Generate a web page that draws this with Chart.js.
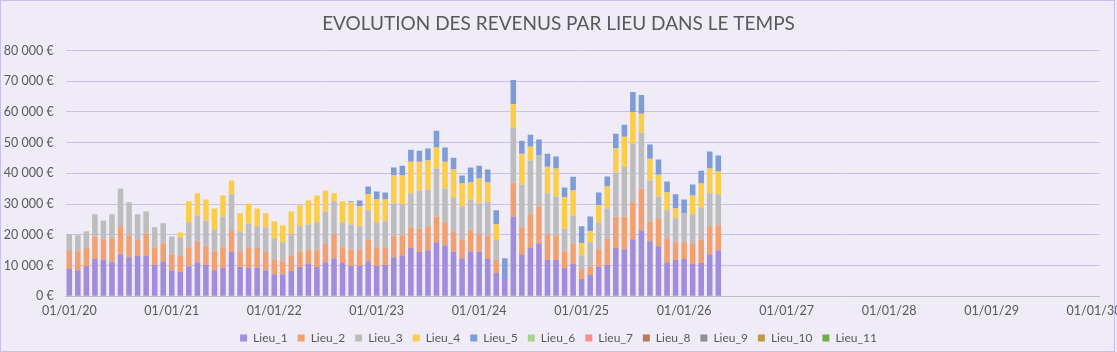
<!DOCTYPE html>
<html>
<head>
<meta charset="utf-8">
<script src="https://cdn.jsdelivr.net/npm/chart.js@4"></script>
<style>
  html, body { margin: 0; padding: 0; background: #ffffff; }
  #wrap { width: 1117px; height: 352px; }
</style>
</head>
<body>
<div id="wrap"><canvas id="chart" width="1117" height="352"></canvas></div>
<script>
// months, Jan 2020 -> May 2026
let mois = [
  "2020-01","2020-02","2020-03","2020-04","2020-05","2020-06","2020-07","2020-08","2020-09","2020-10","2020-11","2020-12",
  "2021-01","2021-02","2021-03","2021-04","2021-05","2021-06","2021-07","2021-08","2021-09","2021-10","2021-11","2021-12",
  "2022-01","2022-02","2022-03","2022-04","2022-05","2022-06","2022-07","2022-08","2022-09","2022-10","2022-11","2022-12",
  "2023-01","2023-02","2023-03","2023-04","2023-05","2023-06","2023-07","2023-08","2023-09","2023-10","2023-11","2023-12",
  "2024-01","2024-02","2024-03","2024-04","2024-05","2024-06","2024-07","2024-08","2024-09","2024-10","2024-11","2024-12",
  "2025-01","2025-02","2025-03","2025-04","2025-05","2025-06","2025-07","2025-08","2025-09","2025-10","2025-11","2025-12",
  "2026-01","2026-02","2026-03","2026-04","2026-05"
];

let lieu1 = [
  8900,8500,9900,12100,11900,11100,13700,12700,13100,13100,10200,11400,
  8500,7900,9800,11100,10200,8500,9200,14400,9500,9200,9200,8500,
  7200,7200,8200,9500,10500,9500,11100,12400,10800,9900,9900,11400,
  9900,10200,12700,13400,15700,14400,15000,17600,16600,14400,12400,14700,
  14400,12100,7600,5600,26000,13700,16000,17300,11800,11800,9200,10500,
  5600,6900,9500,10200,15700,15300,18600,21500,17900,16300,11100,11800,
  12100,10500,10800,13700,15000
];
let lieu2 = [
  6100,6200,5800,7400,6700,7800,9100,7200,5500,7400,5800,5900,
  5200,5200,6200,6800,6100,5900,6800,7100,4900,6500,6500,6200,
  4600,4200,5200,5200,4500,5500,5900,7800,5200,5300,5400,6900,
  6100,5800,7000,6500,6800,7700,7800,8400,7500,6800,6200,6800,
  5800,7800,4200,0,11000,8800,10700,12000,8400,8100,5500,6500,
  3300,2900,5800,8700,10300,10700,12000,13600,6500,9100,7800,5800,
  5500,6500,7800,9100,8100
];
let lieu3 = [
  5200,5200,5500,7200,6100,7800,12300,10700,8100,7100,6500,6500,
  5800,6100,8100,8400,8400,7400,10000,11700,6800,8100,7100,7800,
  7100,6200,6800,8100,8400,9100,10600,10700,8100,8200,7500,9700,
  8100,8400,10500,10100,11000,12300,12000,15600,11000,11000,10700,10000,
  10000,10700,6500,0,17900,13900,17500,16500,13300,12600,7400,9300,
  4500,7800,8800,9700,14300,16200,19100,18100,13300,7100,9100,7800,
  9400,9700,10300,10700,10100
];
let lieu4 = [
  0,0,0,0,0,0,0,0,0,0,0,0,
  0,1600,6800,7200,6800,6800,6800,4500,5800,6400,5800,4500,
  5500,5500,7400,6800,7800,8700,6800,2600,6800,7200,6500,5200,
  7400,7100,9100,9300,10300,9400,9400,6800,8700,9100,7400,5500,
  8100,6400,5100,0,7700,10000,4500,0,8700,9100,10100,8100,
  3900,3600,5500,7100,7800,9700,10300,6200,7100,7100,5800,3200,
  0,6100,7800,8100,7400
];
let lieu5 = [
  0,0,0,0,0,0,0,0,0,0,0,0,
  0,0,0,0,0,0,0,0,0,0,0,0,
  0,0,0,0,0,0,0,0,0,300,1900,2500,
  2600,2300,2600,3200,3900,3600,3900,5500,4600,3800,2600,4900,
  4200,4300,4600,6800,7800,4200,3900,5200,4200,3900,3200,4500,
  5500,4800,4200,3300,4800,3900,6500,6100,4600,4900,3600,4600,
  4500,3600,4200,5500,5200
];
// no revenue read for these places
let lieu6 = [];
let lieu7 = [];
let lieu8 = [];
let lieu9 = [];
let lieu10 = [];
let lieu11 = [];

let tickLabels = ["01/01/20","01/01/21","01/01/22","01/01/23","01/01/24","01/01/25","01/01/26","01/01/27","01/01/28","01/01/29","01/01/30"];

let lieux = ["Lieu_1","Lieu_2","Lieu_3","Lieu_4","Lieu_5","Lieu_6","Lieu_7","Lieu_8","Lieu_9","Lieu_10","Lieu_11"];
let series = [lieu1, lieu2, lieu3, lieu4, lieu5, lieu6, lieu7, lieu8, lieu9, lieu10, lieu11];
let colors = ["#a18ddb","#f0a16f","#bdbdbd","#fcce48","#7e9cd6","#a9d18e","#ff8b8b","#bb7a56","#8e8e8e","#bb9a48","#6fad47"];

// month number counted from Jan 2020
function monthIndex(m) {
  let parts = m.split("-");
  return (parseInt(parts[0]) - 2020) * 12 + parseInt(parts[1]) - 1;
}

function euro(v) {
  return String(v).replace(/\B(?=(\d{3})+(?!\d))/g, " ") + " €";
}

let datasets = series.map((vals, k) => ({
  label: lieux[k],
  data: vals.map((v, i) => ({ x: monthIndex(mois[i]), y: v })),
  backgroundColor: colors[k],
  borderWidth: 0,
  barPercentage: 0.65,
  categoryPercentage: 1.0,
}));

let fontFam = "Lato, 'DejaVu Sans', sans-serif";
let textColor = "#595959";

let background = {
  id: "background",
  beforeDraw(chart) {
    let ctx = chart.ctx;
    ctx.save();
    ctx.fillStyle = "#efecf8";
    ctx.fillRect(0, 0, chart.width, chart.height);
    ctx.restore();
  },
  afterDraw(chart) {
    let ctx = chart.ctx;
    ctx.save();
    ctx.strokeStyle = "#c8bfee";
    ctx.lineWidth = 1;
    ctx.strokeRect(0.5, 0.5, 1114, chart.height - 1);
    ctx.restore();
  }
};

new Chart(document.getElementById("chart"), {
  type: "bar",
  data: { datasets: datasets },
  plugins: [background],
  options: {
    responsive: false,
    animation: false,
    layout: { padding: { left: 0, right: 0, top: 0, bottom: -2 } },
    plugins: {
      title: {
        display: true,
        text: "EVOLUTION DES REVENUS PAR LIEU DANS LE TEMPS",
        color: textColor,
        font: { family: fontFam, size: 19, weight: "normal" },
        padding: { top: 12, bottom: 15.7 },
      },
      legend: {
        position: "bottom",
        labels: {
          boxWidth: 7,
          boxHeight: 7,
          padding: 10,
          color: textColor,
          font: { family: fontFam, size: 12 },
        },
      },
      tooltip: { enabled: false },
    },
    scales: {
      x: {
        type: "linear",
        stacked: true,
        min: -0.42,
        max: 120.62,
        offset: false,
        grid: { display: false, drawTicks: false },
        border: { display: true, color: "#bfbfbf", width: 1 },
        afterBuildTicks(scale) {
          scale.ticks = tickLabels.map((t, i) => ({ value: i * 12 }));
        },
        afterFit(scale) {
          scale.height = 25.7;
          scale.paddingLeft = 0;
          scale.paddingRight = 17.7;
        },
        ticks: {
          autoSkip: false,
          maxRotation: 0,
          padding: 7.5,
          color: textColor,
          font: { family: fontFam, size: 12.5 },
          callback: (v) => tickLabels[Math.round(v / 12)],
        },
      },
      y: {
        stacked: true,
        min: 0,
        max: 80000,
        grid: { color: "#c8bfea", lineWidth: 1, drawTicks: false },
        border: { display: false },
        afterFit(scale) {
          scale.width = 65.7;
        },
        ticks: {
          stepSize: 10000,
          padding: 12,
          color: textColor,
          font: { family: fontFam, size: 12.5 },
          callback: (v) => euro(v),
        },
      },
    },
  },
});
</script>
</body>
</html>
